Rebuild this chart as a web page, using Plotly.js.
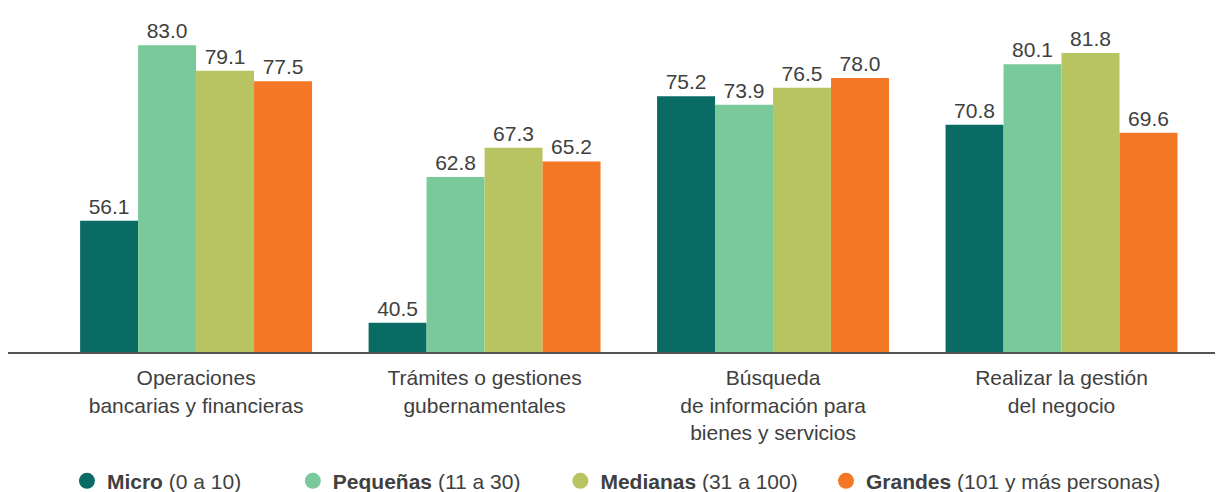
<!DOCTYPE html>
<html>
<head>
<meta charset="utf-8">
<script src="https://cdn.plot.ly/plotly-3.0.1.min.js"></script>
<style>
  html, body { margin: 0; padding: 0; background: #fff; }
  #chart { width: 1217px; height: 492px; }
</style>
</head>
<body>
<div id="chart"></div>
<script>
var categories = [
  'Operaciones<br>bancarias y financieras',
  'Trámites o gestiones<br>gubernamentales',
  'Búsqueda<br>de información para<br>bienes y servicios',
  'Realizar la gestión<br>del negocio'
];

var micro = [56.1, 40.5, 75.2, 70.8];
var pequenas = [83.0, 62.8, 73.9, 80.1];
var medianas = [79.1, 67.3, 76.5, 81.8];
var grandes = [77.5, 65.2, 78.0, 69.6];

var seriesNames = [
  '<b>Micro</b> (0 a 10)',
  '<b>Pequeñas</b> (11 a 30)',
  '<b>Medianas</b> (31 a 100)',
  '<b>Grandes</b> (101 y más personas)'
];
var seriesValues = [micro, pequenas, medianas, grandes];
var colors = ['#0a6a64', '#79c99a', '#b8c462', '#f47725'];

// trailing non-breaking spaces to spread the legend entries like the original
var legendPad = [8, 6, 4, 0];

var textColor = '#404040';
var data = [];

seriesValues.forEach(function (vals, i) {
  data.push({
    type: 'bar',
    x: categories,
    y: vals,
    name: seriesNames[i],
    marker: { color: colors[i] },
    text: vals.map(function (v) { return v.toFixed(1); }),
    textposition: 'outside',
    textfont: { size: 21, color: textColor },
    cliponaxis: false,
    showlegend: false,
    hoverinfo: 'x+y'
  });
});

// round markers for the legend
seriesValues.forEach(function (vals, i) {
  data.push({
    type: 'scatter',
    mode: 'markers',
    x: [null],
    y: [null],
    name: seriesNames[i] + '\u00A0'.repeat(legendPad[i]),
    marker: { color: colors[i], size: 16, symbol: 'circle' },
    showlegend: true,
    hoverinfo: 'skip'
  });
});

var layout = {
  width: 1217,
  height: 492,
  margin: { l: 8, r: 2, t: 10, b: 140 },
  paper_bgcolor: '#ffffff',
  plot_bgcolor: '#ffffff',
  font: { family: 'Liberation Sans, Arial, sans-serif', size: 21, color: textColor },
  barmode: 'group',
  bargap: 0.196,
  bargroupgap: 0,
  showlegend: true,
  legend: {
    orientation: 'h',
    xref: 'container',
    yref: 'container',
    x: 0.055,
    xanchor: 'left',
    y: 0.022,
    yanchor: 'middle',
    font: { size: 21, color: textColor },
    itemclick: false
  },
  xaxis: {
    type: 'category',
    range: [-0.652, 3.532],
    showline: true,
    linecolor: '#555555',
    linewidth: 2,
    ticks: '',
    ticklabelstandoff: 6,
    showgrid: false,
    zeroline: false,
    automargin: false,
    tickfont: { size: 21, color: textColor },
    fixedrange: true
  },
  yaxis: {
    range: [36, 88.4],
    visible: false,
    showgrid: false,
    zeroline: false,
    fixedrange: true
  }
};

Plotly.newPlot('chart', data, layout, { displayModeBar: false, staticPlot: true });
</script>
</body>
</html>
